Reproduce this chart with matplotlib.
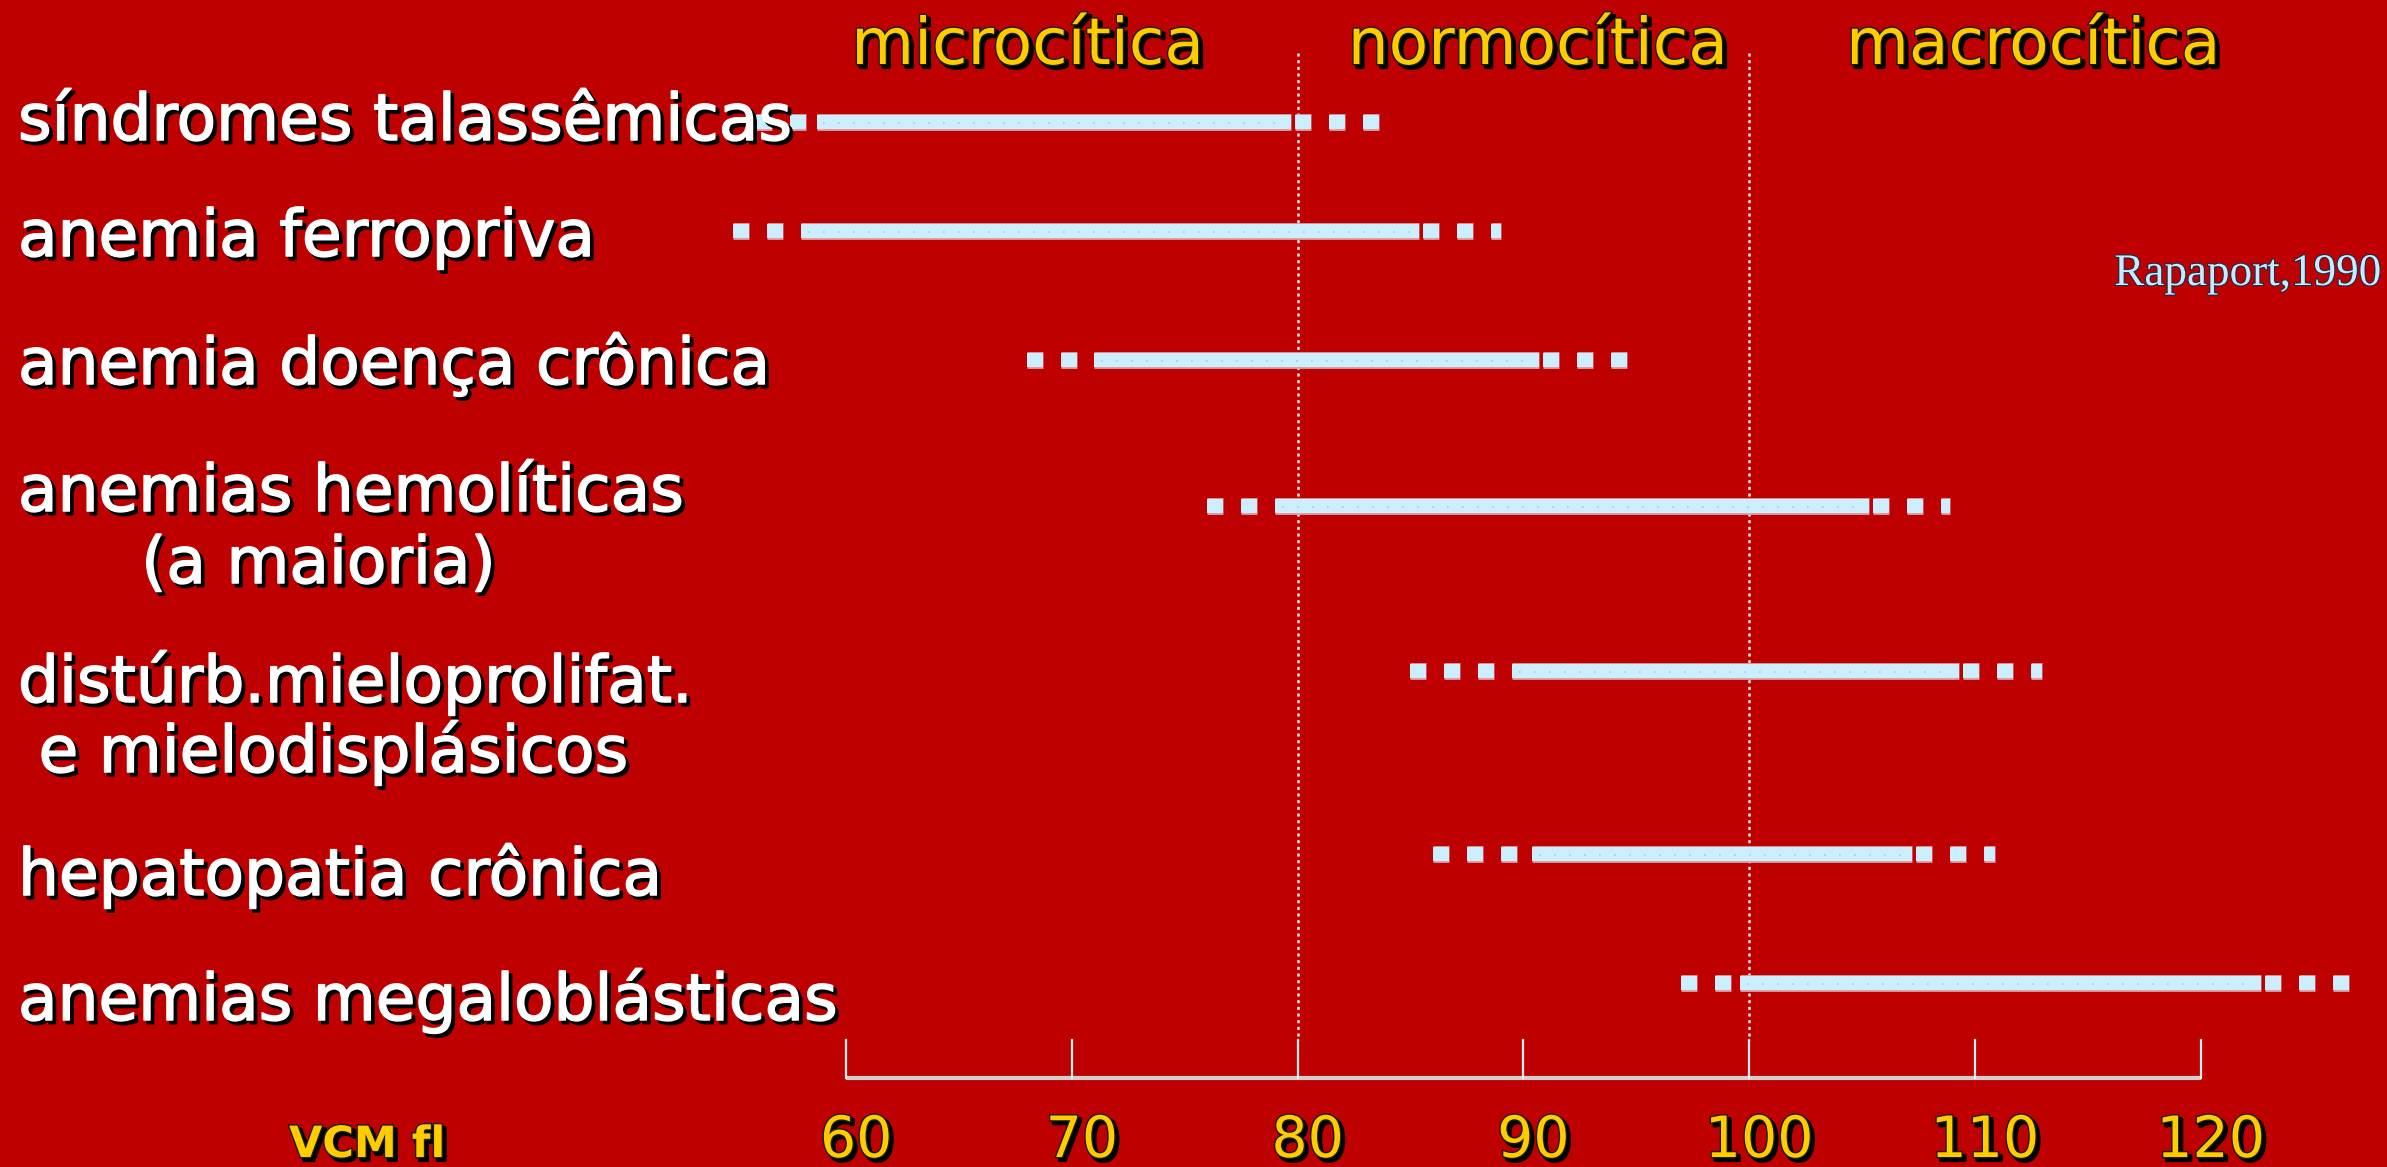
import matplotlib
matplotlib.use("Agg")
import matplotlib.pyplot as plt
import matplotlib.patheffects as pe

# ---------------------------------------------------------------- data
categories = [
    ["síndromes talassêmicas"],
    ["anemia ferropriva"],
    ["anemia doença crônica"],
    ["anemias hemolíticas", "      (a maioria)"],
    ["distúrb.mieloprolifat.", " e mielodisplásicos"],
    ["hepatopatia crônica"],
    ["anemias megaloblásticas"],
]
# VCM (fl): outer dotted range and the usual (solid) range for each condition
dot_lo = [56.0, 55.0, 68.0, 76.0, 85.0, 86.0, 97.0]
solid_lo = [58.7, 58.0, 71.0, 79.0, 89.5, 90.4, 99.6]
solid_hi = [79.7, 85.4, 90.7, 105.3, 109.3, 107.2, 122.7]
dot_hi = [84.0, 89.0, 94.8, 108.9, 113.0, 110.9, 127.0]

ticks = [60, 70, 80, 90, 100, 110, 120]
tick_labels = ["60", "70", "80", "90", "100", "110", "120"]
limits = [80, 100]
zones = ["microcítica", "normocítica", "macrocítica"]
zone_centers = [68.05, 90.65, 112.6]
axis_title = "VCM fl"
source = "Rapaport,1990"

# ---------------------------------------------------------------- layout
W, H, DPI = 2387, 1167, 100
row_y = [122, 231, 360, 506, 671, 854, 983]          # bar centre lines (px from top)
label_base = [[140], [256], [384], [511, 583], [702, 772], [895], [1020]]
label_x = 18
x0, px_per_unit = 846, 22.575                         # where 60 fl sits, px per fl
axis_y, tick_top = 1078, 1040
zone_base, tick_base = 64, 1157

BG = "#bf0000"
BAR = "#cdeeff"
BAR_EDGE = "#d9a3ab"
YELLOW = "#ffcc00"

plt.rcParams["font.family"] = ["DejaVu Sans"]
plt.rcParams["lines.scale_dashes"] = False

fig = plt.figure(figsize=(W / DPI, H / DPI), dpi=DPI, facecolor=BG)
ax = fig.add_axes([0, 0, 1, 1])
ax.set_xlim(60 - x0 / px_per_unit, 60 + (W - x0) / px_per_unit)
ax.set_ylim(H, 0)
ax.axis("off")

pt = 72.0 / DPI                    # points per pixel
bar_lw = 14 * pt
dash_on, dash_off = 16 * pt, 18 * pt
gap_units = 4 / px_per_unit


def shadowed(outline, weight):
    sh = (2.4, -2.4)
    return [pe.Stroke(offset=sh, linewidth=weight + 0.6, foreground="black"),
            pe.withSimplePatchShadow(offset=sh, shadow_rgbFace="black", alpha=1.0),
            pe.Stroke(linewidth=weight, foreground=outline),
            pe.Normal()]


white_fx = shadowed("white", 1.1)
yellow_fx = shadowed("#1c1c00", 2.0)

# reference limits between the three classes
for v in limits:
    ax.plot([v, v], [53, tick_top], color="#ececec", lw=1.8,
            linestyle=(0, (2.2, 2.6)), zorder=1)

# ranges
for y, dl, sl, sh, dh in zip(row_y, dot_lo, solid_lo, solid_hi, dot_hi):
    dotted = (0, (dash_on, dash_off))
    for xs in ([dl, sl - gap_units], [sh + gap_units, dh]):
        ax.plot(xs, [y, y], color=BAR_EDGE, lw=bar_lw + 2.0, linestyle=dotted,
                dash_capstyle="butt", zorder=2)
        ax.plot(xs, [y, y], color=BAR, lw=bar_lw, linestyle=dotted,
                dash_capstyle="butt", zorder=3)
    # solid usual range
    ax.plot([sl, sh], [y, y], color=BAR_EDGE, lw=bar_lw + 2.0,
            solid_capstyle="butt", zorder=2)
    ax.plot([sl, sh], [y, y], color=BAR, lw=bar_lw,
            solid_capstyle="butt", zorder=3)
    ax.plot([sl + 0.3, sh - 0.3], [y + 1, y + 1], color="#a6c9ea", lw=1.2,
            linestyle=(0, (1.2, 9.6)), dash_capstyle="butt", zorder=4)

# category labels
for lines, bases in zip(categories, label_base):
    for txt, yb in zip(lines, bases):
        ax.text(label_x / W, 1 - yb / H, txt, transform=ax.transAxes,
                ha="left", va="baseline", fontsize=46.5, color="white",
                path_effects=white_fx, zorder=6)

# class headers
for name, xc in zip(zones, zone_centers):
    ax.text(xc, zone_base, name, ha="center", va="baseline", fontsize=46.5,
            color=YELLOW, path_effects=yellow_fx, zorder=6)

# VCM scale
ax.plot([ticks[0], ticks[-1]], [axis_y, axis_y], color="#cfcfcf", lw=3.0,
        solid_capstyle="butt", zorder=2)
for t, lab in zip(ticks, tick_labels):
    ax.plot([t, t], [tick_top, axis_y], color="#eeeeee", lw=1.6, zorder=2)
    ax.text(t + 0.45, tick_base, lab, ha="center", va="baseline", fontsize=41,
            color=YELLOW, path_effects=yellow_fx, zorder=6)

ax.text(289 / W, 1 - tick_base / H, axis_title, transform=ax.transAxes,
        ha="left", va="baseline", fontsize=31, fontweight="bold",
        color=YELLOW, path_effects=yellow_fx, zorder=6)

# reference
ax.text(2382 / W, 1 - 285 / H, source, transform=ax.transAxes,
        ha="right", va="baseline", fontsize=32.5, family="Liberation Serif",
        color="#c8ecff",
        path_effects=[pe.Stroke(linewidth=1.6, foreground="#1e2c4a"), pe.Normal()],
        zorder=6)

fig.savefig("out.png", dpi=DPI, facecolor=BG)
